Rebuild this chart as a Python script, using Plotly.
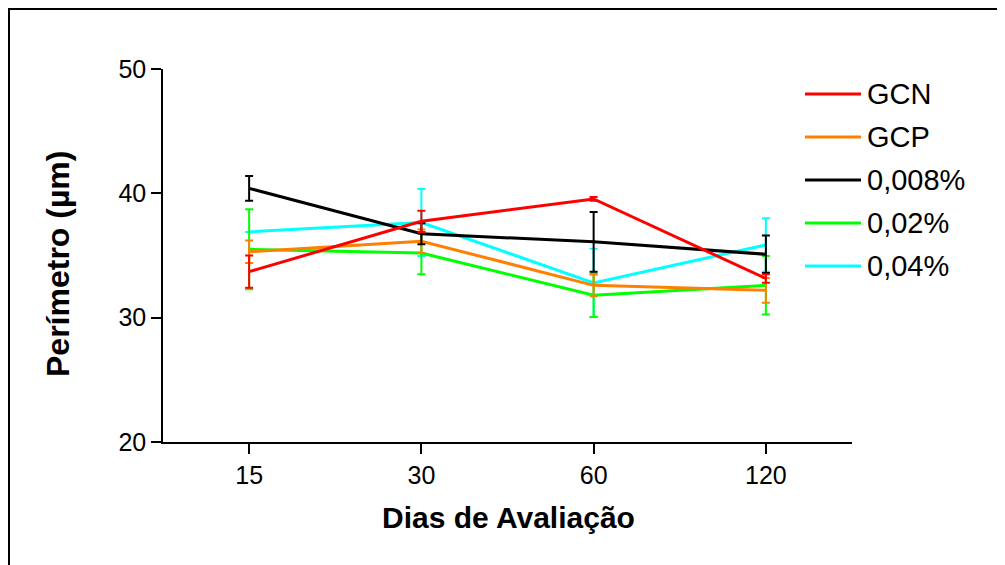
import plotly.graph_objects as go

# ---- data ----
dias = ["15", "30", "60", "120"]
series_names = ["GCN", "GCP", "0,008%", "0,02%", "0,04%"]
gcn = [33.7, 37.75, 39.55, 33.15]
gcn_err = [1.3, 0.85, 0.15, 0.35]
gcp = [35.3, 36.15, 32.6, 32.2]
gcp_err = [0.9, 0.95, 0.87, 1.0]
c0008 = [40.4, 36.75, 36.1, 35.1]
c0008_err = [1.0, 0.85, 2.4, 1.5]
c002 = [35.5, 35.2, 31.8, 32.6]
c002_err = [3.22, 1.7, 1.75, 2.35]
c004 = [36.9, 37.65, 32.8, 35.85]
c004_err = [0.0, 2.7, 2.75, 2.15]
y_ticks = [20, 30, 40, 50]

colors = ["#FF0000", "#FF8000", "#000000", "#00FF00", "#00FFFF"]
values = [gcn, gcp, c0008, c002, c004]
errors = [gcn_err, gcp_err, c0008_err, c002_err, c004_err]

OFF = 8  # page body margin
W, H = 1005 - OFF, 565 - OFF
# target plot area in screen pixels
SX0, SX1, SY0, SY1 = 163, 852, 69, 442
L, T = SX0 - OFF, SY0 - OFF
R, B = W - (SX1 - OFF), H - (SY1 - OFF)
PW, PH = SX1 - SX0, SY1 - SY0

def px_x(p):
    return (p - SX0) / PW

def px_y(p):
    return (SY1 - p) / PH

FONT = "Arial, Liberation Sans, sans-serif"

fig = go.Figure()
# draw bottom -> top: cyan, green, black, orange, red
for i in [4, 3, 1, 2, 0]:
    fig.add_trace(go.Scatter(
        x=dias, y=values[i], mode="lines", name=series_names[i],
        line=dict(color=colors[i], width=3),
        error_y=dict(type="data", array=errors[i], visible=True,
                     color=colors[i], thickness=2, width=4),
        showlegend=False,
    ))

shapes = []
annotations = []
# outer frame (cropped at right/bottom)
shapes.append(dict(type="rect", xref="paper", yref="paper",
                   x0=px_x(9), x1=px_x(1020), y0=px_y(580), y1=px_y(9),
                   line=dict(color="black", width=2), fillcolor="rgba(0,0,0,0)",
                   layer="below"))
# manual legend
leg_y = [94, 137, 180, 223, 266]
for i, name in enumerate(series_names):
    shapes.append(dict(type="line", xref="paper", yref="paper",
                       x0=px_x(805), x1=px_x(861), y0=px_y(leg_y[i]), y1=px_y(leg_y[i]),
                       line=dict(color=colors[i], width=3)))
    annotations.append(dict(xref="paper", yref="paper", x=px_x(865), y=px_y(leg_y[i]),
                            xanchor="left", yanchor="middle", showarrow=False,
                            text=name, font=dict(family=FONT, size=29, color="black")))
# axis titles
annotations.append(dict(xref="paper", yref="paper", x=px_x(509), y=px_y(518),
                        xanchor="center", yanchor="middle", showarrow=False,
                        text="<b>Dias de Avaliação</b>",
                        font=dict(family=FONT, size=30, color="black")))
annotations.append(dict(xref="paper", yref="paper", x=px_x(58), y=px_y(264),
                        xanchor="center", yanchor="middle", showarrow=False, textangle=-90,
                        text="<b>Perímetro (µm)</b>",
                        font=dict(family=FONT, size=32, color="black")))

fig.update_layout(
    width=W, height=H,
    margin=dict(l=L, r=R, t=T, b=B),
    paper_bgcolor="white", plot_bgcolor="white",
    font=dict(family=FONT, color="black"),
    shapes=shapes, annotations=annotations,
    showlegend=False,
)
fig.update_xaxes(type="category", range=[-0.5, 3.5], showgrid=False, zeroline=False,
                 showline=True, linecolor="black", linewidth=1.5,
                 ticks="outside", ticklen=10, tickwidth=1.5, tickcolor="black",
                 tickfont=dict(family=FONT, size=25, color="black"))
fig.update_yaxes(range=[20, 50], tickvals=y_ticks, showgrid=False, zeroline=False,
                 showline=True, linecolor="black", linewidth=1.5,
                 ticks="outside", ticklen=10, tickwidth=1.5, tickcolor="black",
                 tickfont=dict(family=FONT, size=25, color="black"))

fig.write_html("out.html")
